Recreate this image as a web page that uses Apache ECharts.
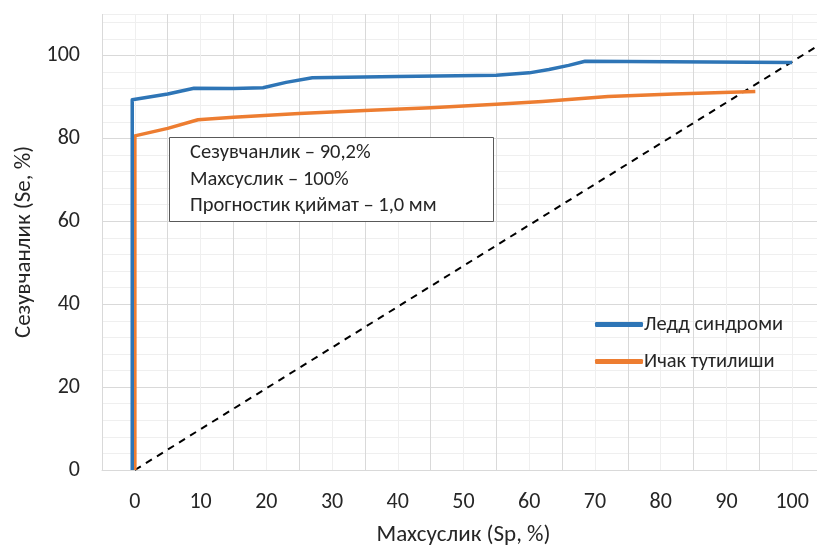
<!DOCTYPE html>
<html>
<head>
<meta charset="utf-8">
<script src="https://cdn.jsdelivr.net/npm/echarts@6/dist/echarts.min.js"></script>
<style>
  html, body { margin: 0; padding: 0; background: #fff; }
  #chart { width: 817px; height: 548px; }
</style>
</head>
<body>
<div id="chart"></div>
<script>
// ROC curves: specificity (x) vs sensitivity (y)
const seriesNames = ['Ледд синдроми', 'Ичак тутилиши'];

const leddX = [-0.4, -0.4, 5, 9, 15, 19.5, 23, 27, 40, 55, 60, 63, 66, 68.5, 100];
const leddY = [0, 89.3, 90.7, 92.1, 92.0, 92.2, 93.5, 94.6, 94.9, 95.2, 95.8, 96.6, 97.6, 98.6, 98.3];

const ichakX = [0, 0, 5, 9.6, 15, 25, 35, 45, 55, 62, 68, 72, 82, 94.4];
const ichakY = [0, 80.6, 82.4, 84.5, 85.1, 86.0, 86.7, 87.4, 88.2, 88.9, 89.6, 90.1, 90.7, 91.3];

// reference diagonal
const diagX = [0, 106];
const diagY = [0, 104.4];

const xTickLabels = [0, 10, 20, 30, 40, 50, 60, 70, 80, 90, 100];
const yTickLabels = [0, 20, 40, 60, 80, 100];

const infoLines = ['Сезувчанлик – 90,2%', 'Махсуслик – 100%', 'Прогностик қиймат – 1,0 мм'];

const FONT = "Carlito, Lato, 'Open Sans', sans-serif";
const TXT = '#262626';

const zip = (xs, ys) => xs.map((x, i) => [x, ys[i]]);

const chart = echarts.init(document.getElementById('chart'), null, { renderer: 'canvas' });

const boxText = (t, y) => ({
  type: 'text', x: 190, y: y, z: 101,
  style: { text: t, font: "20.5px " + FONT, fill: TXT, textVerticalAlign: 'middle' }
});

chart.setOption({
  animation: false,
  backgroundColor: '#ffffff',
  textStyle: { fontFamily: FONT },
  grid: { left: 102, top: 14, width: 723, height: 456, containLabel: false, outerBoundsMode: 'none' },
  xAxis: {
    type: 'value',
    min: -5, max: 105, interval: 5,
    name: 'Махсуслик (Sp, %)',
    nameLocation: 'middle',
    nameGap: 54,
    nameTextStyle: { fontSize: 23, color: TXT, fontFamily: FONT, verticalAlign: 'top' },
    axisLine: { show: true, lineStyle: { color: '#d9d9d9', width: 1 } },
    axisTick: { show: false },
    axisLabel: {
      fontSize: 22, color: TXT, fontFamily: FONT, margin: 21,
      formatter: v => (xTickLabels.indexOf(v) >= 0 ? String(v) : '')
    },
    splitLine: { show: true, lineStyle: { color: ['#d9d9d9', '#efefef'], width: 1 } }
  },
  yAxis: {
    type: 'value',
    min: 0, max: 110, interval: 4,
    name: 'Сезувчанлик (Se, %)',
    nameLocation: 'middle',
    nameGap: 60,
    nameRotate: 90,
    nameTextStyle: { fontSize: 23, color: TXT, fontFamily: FONT },
    axisLine: { show: false },
    axisTick: { show: false },
    axisLabel: {
      fontSize: 22, color: TXT, fontFamily: FONT, margin: 22,
      formatter: v => (yTickLabels.indexOf(v) >= 0 ? String(v) : '')
    },
    splitLine: { show: true, lineStyle: { color: ['#d9d9d9', '#efefef', '#efefef', '#efefef', '#efefef'], width: 1 } }
  },
  legend: {
    data: seriesNames,
    orient: 'vertical',
    left: 590, top: 309,
    itemWidth: 48, itemHeight: 5,
    itemGap: 16,
    icon: 'roundRect',
    textStyle: { fontSize: 20.5, color: TXT, fontFamily: FONT, padding: [0, 0, 0, -4] }
  },
  series: [
    {
      name: 'diag', type: 'line', data: zip(diagX, diagY), symbol: 'none', silent: true,
      lineStyle: { color: '#000000', width: 2, type: [7, 6] }, z: 1
    },
    {
      name: seriesNames[0], type: 'line', data: zip(leddX, leddY), symbol: 'none',
      color: '#2e75b6', lineStyle: { color: '#2e75b6', width: 3.5, join: 'round' }, z: 3
    },
    {
      name: seriesNames[1], type: 'line', data: zip(ichakX, ichakY), symbol: 'none',
      color: '#ed7d31', lineStyle: { color: '#ed7d31', width: 3.5, join: 'round' }, z: 2
    }
  ],
  graphic: {
    elements: [
      { type: 'rect', z: 100, shape: { x: 169.5, y: 137.5, width: 324, height: 84 },
        style: { fill: '#ffffff', stroke: '#595959', lineWidth: 1 } },
      boxText(infoLines[0], 153),
      boxText(infoLines[1], 180),
      boxText(infoLines[2], 206)
    ]
  }
});
</script>
</body>
</html>
